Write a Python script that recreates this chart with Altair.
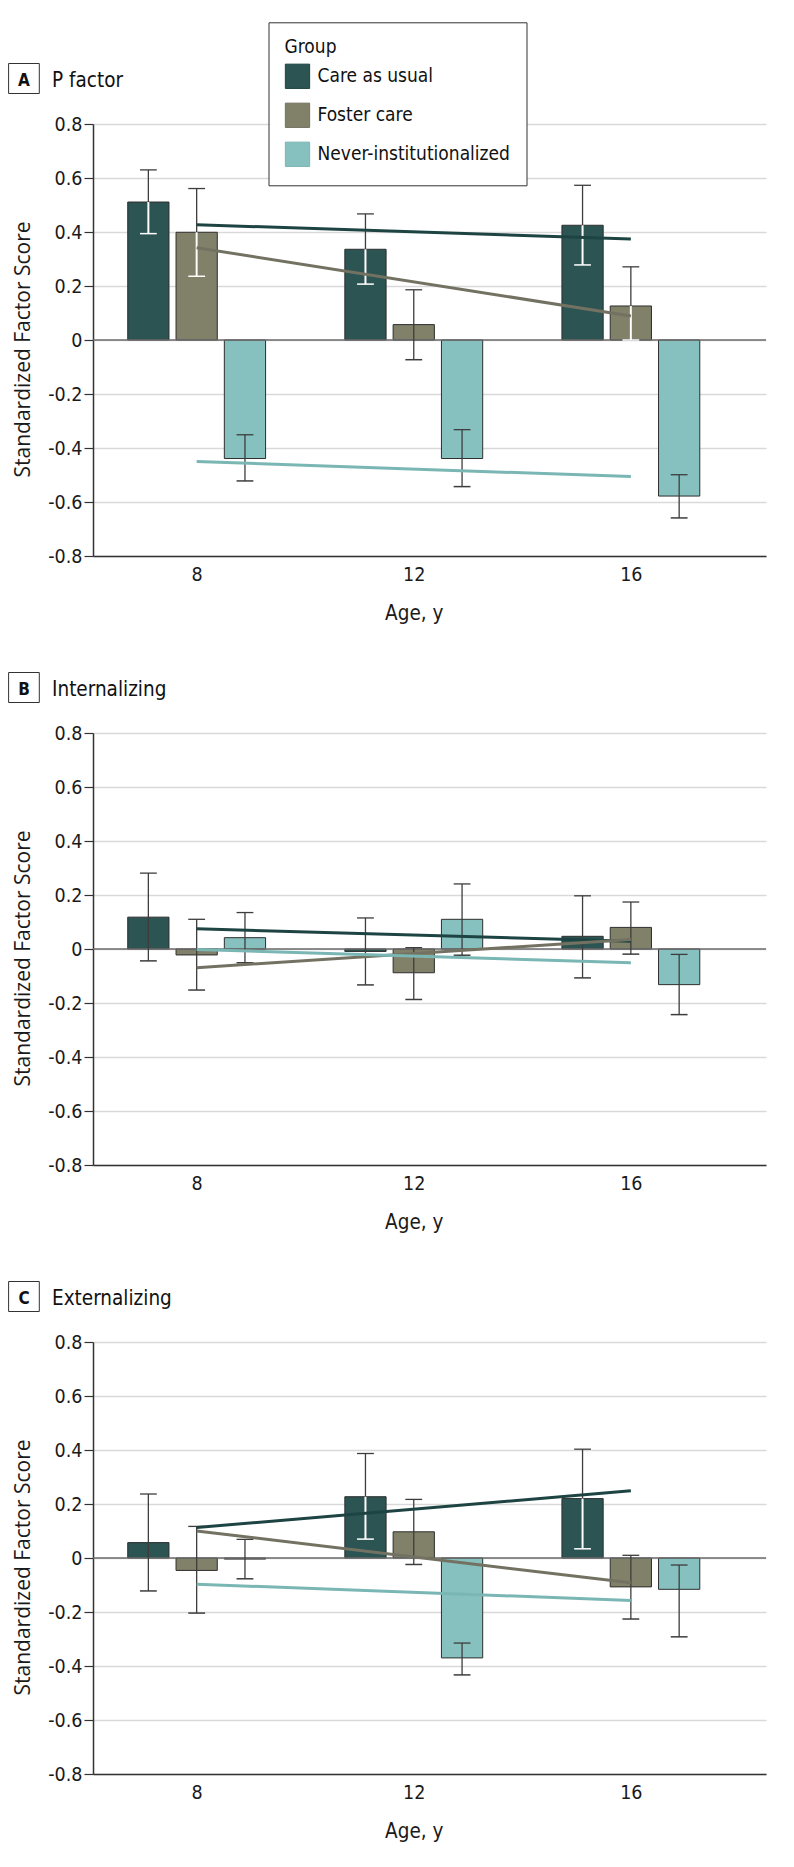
import altair as alt
import pandas as pd

AGES = [8, 12, 16]
TREND_AGES = [8, 16]
GROUPS = ["Care as usual", "Foster care", "Never-institutionalized"]
PANEL_LETTERS = ["A", "B", "C"]
PANEL_NAMES = ["P factor", "Internalizing", "Externalizing"]

# ---- Panel A: P factor (rows: Care as usual, Foster care, Never-institutionalized; cols: ages 8, 12, 16)
P_MEAN = [[0.511, 0.336, 0.425], [0.399, 0.057, 0.126], [-0.439, -0.439, -0.578]]
P_LO = [[0.394, 0.207, 0.278], [0.236, -0.073, 0.0], [-0.522, -0.543, -0.659]]
P_HI = [[0.630, 0.467, 0.573], [0.561, 0.186, 0.271], [-0.351, -0.332, -0.499]]
P_TREND = [[0.427, 0.374], [0.342, 0.089], [-0.450, -0.506]]

# ---- Panel B: Internalizing
INT_MEAN = [[0.118, -0.009, 0.047], [-0.022, -0.088, 0.080], [0.042, 0.110, -0.132]]
INT_LO = [[-0.044, -0.133, -0.107], [-0.152, -0.187, -0.019], [-0.051, -0.023, -0.243]]
INT_HI = [[0.281, 0.115, 0.197], [0.110, 0.005, 0.174], [0.135, 0.241, -0.020]]
INT_TREND = [[0.075, 0.029], [-0.069, 0.035], [-0.002, -0.051]]

# ---- Panel C: Externalizing
EXT_MEAN = [[0.057, 0.227, 0.220], [-0.046, 0.097, -0.107], [-0.004, -0.370, -0.116]]
EXT_LO = [[-0.122, 0.070, 0.034], [-0.204, -0.024, -0.226], [-0.077, -0.433, -0.292]]
EXT_HI = [[0.237, 0.387, 0.403], [0.117, 0.217, 0.010], [0.069, -0.315, -0.026]]
EXT_TREND = [[0.113, 0.249], [0.100, -0.092], [-0.097, -0.157]]

Y_TICKS = [-0.8, -0.6, -0.4, -0.2, 0, 0.2, 0.4, 0.6, 0.8]

BAR_COLORS = ["#2b5453", "#818069", "#86c1c0"]
LINE_COLORS = ["#1d4442", "#737262", "#7ab6b4"]
EB_COLOR = "#3d3d3d"
FONT = "DejaVu Sans Condensed, Liberation Sans, Arial, sans-serif"
TITLE_FONT = "Open Sans, DejaVu Sans, sans-serif"

panel_data = [
    (P_MEAN, P_LO, P_HI, P_TREND),
    (INT_MEAN, INT_LO, INT_HI, INT_TREND),
    (EXT_MEAN, EXT_LO, EXT_HI, EXT_TREND),
]

rows, trows = [], []
for letter, (means, los, his, trend) in zip(PANEL_LETTERS, panel_data):
    for gi, g in enumerate(GROUPS):
        for ai, age in enumerate(AGES):
            rows.append(dict(panel=letter, group=g, gi=gi, age=age,
                             mean=means[gi][ai], lo=los[gi][ai], hi=his[gi][ai]))
        for ti, age in enumerate(TREND_AGES):
            trows.append(dict(panel=letter, group=g, age=age, value=trend[gi][ti]))
df = pd.DataFrame(rows)
tdf = pd.DataFrame(trows)

W, H = 673, 432
X_DOMAIN = [6.09, 18.49]
px_per_year = W / (X_DOMAIN[1] - X_DOMAIN[0])

xscale = alt.Scale(domain=X_DOMAIN, nice=False, zero=False)
yscale = alt.Scale(domain=[-0.8, 0.8], nice=False, zero=False)

xaxis = alt.Axis(values=AGES, labelExpr="toString(datum.value)", ticks=False, grid=False,
                 domainColor="#333333", domainWidth=1.5, labelFontSize=19.5, labelPadding=9,
                 title="Age, y", titleFontSize=20.5, titleFontWeight="normal",
                 titleX=(12 - X_DOMAIN[0]) * px_per_year, titleY=63,
                 titleAlign="center", titleBaseline="alphabetic")
yaxis = alt.Axis(values=Y_TICKS, labelExpr="datum.value == 0 ? '0' : toString(datum.value)",
                 grid=True, gridColor="#d9d9d9", gridWidth=1.5,
                 domainColor="#333333", domainWidth=1.5, tickColor="#333333", tickSize=9,
                 tickWidth=1.2, labelFontSize=19.5, labelPadding=2,
                 title="Standardized Factor Score", titleFont=TITLE_FONT, titleFontSize=21,
                 titleFontWeight="normal", titleAngle=-90, titleX=-63.5, titleY=225,
                 titleAlign="center", titleBaseline="alphabetic")

INNER = "datum.group != 'Never-institutionalized' && datum.lo >= 0 && datum.mean > 0"


def make_panel(letter, name, show_legend):
    base = alt.Chart(df).transform_filter(alt.datum.panel == letter).transform_calculate(
        xc="datum.age + (datum.gi - 1) * 0.89"
    ).transform_calculate(
        x0="datum.xc - 0.38", x1="datum.xc + 0.38",
        cl="datum.xc - 0.155", cr="datum.xc + 0.155",
        inner=INNER,
    )
    if show_legend:
        legend = alt.Legend(orient="none", legendX=175.5, legendY=-101.7, title="Group",
                            fillColor="white", strokeColor="#333333", padding=16,
                            titleFont=FONT, titleFontSize=19, titleFontWeight="normal",
                            titleColor="#111111", titlePadding=6,
                            labelFont=FONT, labelFontSize=19, labelColor="#111111", labelLimit=400,
                            symbolType="square", symbolSize=590, symbolStrokeColor="#333333",
                            symbolStrokeWidth=1, rowPadding=9, labelOffset=7)
    else:
        legend = None
    bars = base.mark_bar(stroke="#2e2e2e", strokeWidth=1).encode(
        x=alt.X("x0:Q", scale=xscale, axis=xaxis),
        x2="x1:Q",
        y=alt.Y("mean:Q", scale=yscale, axis=yaxis),
        y2=alt.datum(0),
        color=alt.Color("group:N", scale=alt.Scale(domain=GROUPS, range=BAR_COLORS), legend=legend),
    )
    one = alt.Chart(pd.DataFrame({"panel": [letter], "name": [name]}))
    zero = one.mark_rule(color="#6b6b6b", strokeWidth=1.5).encode(
        y=alt.Y(datum=0, scale=yscale, axis=yaxis))
    eb = base.mark_rule(color=EB_COLOR, strokeWidth=1.3).encode(
        x=alt.X("xc:Q", scale=xscale, axis=xaxis), y=alt.Y("lo:Q", scale=yscale, axis=yaxis), y2="hi:Q")
    white = base.transform_filter(INNER).mark_rule(color="white", strokeWidth=2).encode(
        x=alt.X("xc:Q", scale=xscale, axis=xaxis), y=alt.Y("lo:Q", scale=yscale, axis=yaxis), y2="mean:Q")
    cap_hi = base.mark_rule(color=EB_COLOR, strokeWidth=1.3).encode(
        x=alt.X("cl:Q", scale=xscale, axis=xaxis), x2="cr:Q", y=alt.Y("hi:Q", scale=yscale, axis=yaxis))
    cap_lo = base.mark_rule(strokeWidth=1.5).encode(
        x=alt.X("cl:Q", scale=xscale, axis=xaxis), x2="cr:Q", y=alt.Y("lo:Q", scale=yscale, axis=yaxis),
        stroke=alt.condition(INNER, alt.value("white"), alt.value(EB_COLOR)))
    lines = alt.Chart(tdf).transform_filter(alt.datum.panel == letter).mark_line(strokeWidth=3).encode(
        x=alt.X("age:Q", scale=xscale, axis=xaxis),
        y=alt.Y("value:Q", scale=yscale, axis=yaxis),
        stroke=alt.Stroke("group:N", scale=alt.Scale(domain=GROUPS, range=LINE_COLORS), legend=None),
        detail="group:N",
    )
    box = one.mark_rect(fill="white", stroke="#333333", strokeWidth=1).encode(
        x=alt.value(-84.4), x2=alt.value(-53.7), y=alt.value(-60.5), y2=alt.value(-30.5))
    letter_t = one.mark_text(font=FONT, fontSize=17, fontWeight="bold", align="center",
                             baseline="alphabetic", color="#111111").encode(
        x=alt.value(-69), y=alt.value(-38.5), text="panel:N")
    name_t = one.mark_text(font=FONT, fontSize=20.5, align="left", baseline="alphabetic",
                           color="#111111").encode(
        x=alt.value(-41), y=alt.value(-37), text="name:N")
    return alt.layer(bars, zero, eb, white, cap_hi, cap_lo, lines, box, letter_t, name_t).properties(
        width=W, height=H)


panels = [make_panel(l, n, i == 0) for i, (l, n) in enumerate(zip(PANEL_LETTERS, PANEL_NAMES))]

chart = alt.vconcat(*panels, spacing=48).resolve_legend(
    color="independent", stroke="independent"
).resolve_scale(color="independent", stroke="independent").properties(
    padding={"top": 13, "left": 0, "right": 5, "bottom": 5}
).configure_view(stroke=None).configure_axis(
    labelFont=FONT, titleFont=FONT, labelColor="#1a1a1a", titleColor="#1a1a1a"
)

chart.save("out.html", embed_options={"renderer": "svg", "actions": False})
